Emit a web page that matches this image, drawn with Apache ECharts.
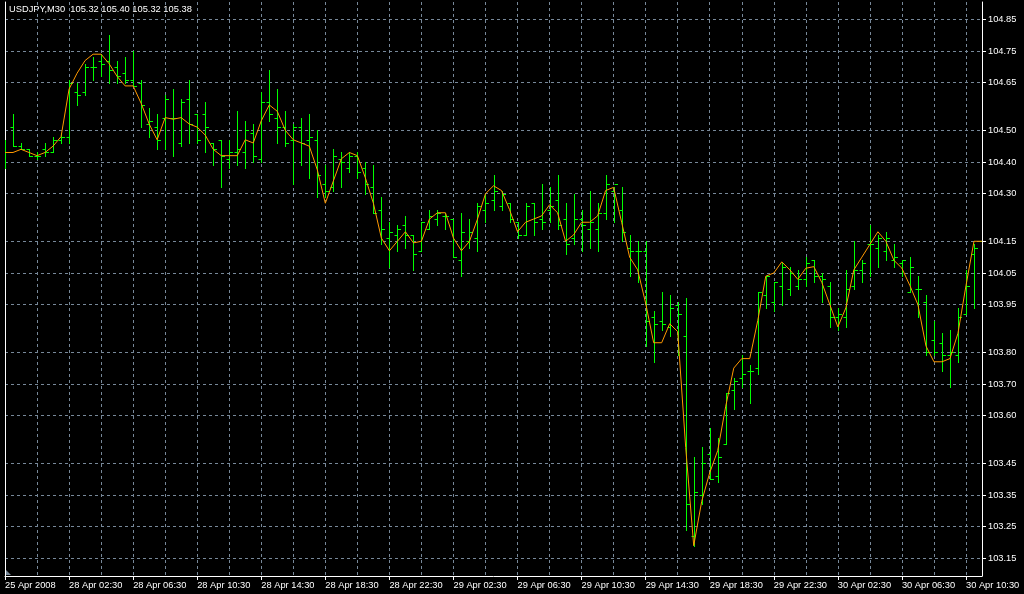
<!DOCTYPE html>
<html><head><meta charset="utf-8">
<script src="https://cdn.jsdelivr.net/npm/echarts@6/dist/echarts.min.js"></script>
<style>html,body{margin:0;padding:0;background:#000;}#c{width:1024px;height:594px;}</style>
</head><body><div id="c"></div>
<script>
const categories = [
'25 Apr 22:30','25 Apr 23:00','25 Apr 23:30',
'28 Apr 00:00','28 Apr 00:30','28 Apr 01:00','28 Apr 01:30','28 Apr 02:00','28 Apr 02:30','28 Apr 03:00','28 Apr 03:30',
'28 Apr 04:00','28 Apr 04:30','28 Apr 05:00','28 Apr 05:30','28 Apr 06:00','28 Apr 06:30','28 Apr 07:00','28 Apr 07:30',
'28 Apr 08:00','28 Apr 08:30','28 Apr 09:00','28 Apr 09:30','28 Apr 10:00','28 Apr 10:30','28 Apr 11:00','28 Apr 11:30',
'28 Apr 12:00','28 Apr 12:30','28 Apr 13:00','28 Apr 13:30','28 Apr 14:00','28 Apr 14:30','28 Apr 15:00','28 Apr 15:30',
'28 Apr 16:00','28 Apr 16:30','28 Apr 17:00','28 Apr 17:30','28 Apr 18:00','28 Apr 18:30','28 Apr 19:00','28 Apr 19:30',
'28 Apr 20:00','28 Apr 20:30','28 Apr 21:00','28 Apr 21:30','28 Apr 22:00','28 Apr 22:30','28 Apr 23:00','28 Apr 23:30',
'29 Apr 00:00','29 Apr 00:30','29 Apr 01:00','29 Apr 01:30','29 Apr 02:00','29 Apr 02:30','29 Apr 03:00','29 Apr 03:30',
'29 Apr 04:00','29 Apr 04:30','29 Apr 05:00','29 Apr 05:30','29 Apr 06:00','29 Apr 06:30','29 Apr 07:00','29 Apr 07:30',
'29 Apr 08:00','29 Apr 08:30','29 Apr 09:00','29 Apr 09:30','29 Apr 10:00','29 Apr 10:30','29 Apr 11:00','29 Apr 11:30',
'29 Apr 12:00','29 Apr 12:30','29 Apr 13:00','29 Apr 13:30','29 Apr 14:00','29 Apr 14:30','29 Apr 15:00','29 Apr 15:30',
'29 Apr 16:00','29 Apr 16:30','29 Apr 17:00','29 Apr 17:30','29 Apr 18:00','29 Apr 18:30','29 Apr 19:00','29 Apr 19:30',
'29 Apr 20:00','29 Apr 20:30','29 Apr 21:00','29 Apr 21:30','29 Apr 22:00','29 Apr 22:30','29 Apr 23:00','29 Apr 23:30',
'30 Apr 00:00','30 Apr 00:30','30 Apr 01:00','30 Apr 01:30','30 Apr 02:00','30 Apr 02:30','30 Apr 03:00','30 Apr 03:30',
'30 Apr 04:00','30 Apr 04:30','30 Apr 05:00','30 Apr 05:30','30 Apr 06:00','30 Apr 06:30','30 Apr 07:00','30 Apr 07:30',
'30 Apr 08:00','30 Apr 08:30','30 Apr 09:00','30 Apr 09:30','30 Apr 10:00','30 Apr 10:30','30 Apr 11:00','30 Apr 11:30'
];
const openV = [
104.43,104.51,104.45,104.44,104.42,104.44,104.43,104.47,104.48,104.62,
104.62,104.70,104.72,104.72,104.70,104.68,104.66,104.65,104.52,104.51,
104.54,104.54,104.46,104.60,104.55,104.55,104.46,104.47,104.41,104.43,
104.43,104.49,104.41,104.59,104.54,104.51,104.47,104.51,104.47,104.47,
104.33,104.32,104.41,104.38,104.42,104.38,104.32,104.25,104.16,104.17,
104.20,104.17,104.12,104.19,104.22,104.23,104.22,104.09,104.15,104.16,
104.25,104.28,104.26,104.27,104.21,104.17,104.27,104.22,104.25,104.28,
104.22,104.16,104.22,104.19,104.19,104.24,104.31,104.25,104.13,104.12,
104.12,103.91,103.90,103.88,103.95,103.85,103.22,103.35,103.48,103.41,
103.51,103.68,103.72,103.74,103.75,103.98,103.96,104.01,104.00,104.01,
104.03,104.09,104.04,104.01,103.91,103.91,104.01,104.06,104.14,104.13,
104.12,104.09,104.08,103.99,104.00,103.96,103.84,103.83,103.79,103.79,
103.92,104.11,104.15];
const highV = [
104.47,104.55,104.46,104.44,104.43,104.46,104.48,104.49,104.66,104.65,
104.71,104.73,104.74,104.80,104.72,104.73,104.75,104.66,104.57,104.55,
104.61,104.63,104.60,104.66,104.55,104.59,104.46,104.47,104.47,104.56,
104.53,104.52,104.62,104.69,104.63,104.56,104.52,104.54,104.55,104.50,
104.39,104.44,104.43,104.43,104.43,104.40,104.39,104.29,104.21,104.20,
104.23,104.17,104.21,104.25,104.25,104.24,104.22,104.24,104.22,104.27,
104.30,104.36,104.31,104.27,104.21,104.27,104.27,104.33,104.32,104.36,
104.27,104.30,104.25,104.31,104.27,104.36,104.32,104.32,104.17,104.15,
104.15,103.93,103.99,103.98,103.96,103.97,103.47,103.50,103.56,103.53,
103.67,103.72,103.79,103.76,103.99,104.04,104.02,104.08,104.07,104.06,
104.10,104.09,104.05,104.02,103.94,104.06,104.15,104.09,104.20,104.17,
104.18,104.14,104.09,104.10,104.04,103.98,103.90,103.86,103.87,103.94,
104.06,104.14,104.19];
const lowV = [
104.38,104.45,104.44,104.42,104.41,104.42,104.43,104.46,104.46,104.58,
104.61,104.66,104.67,104.65,104.65,104.65,104.64,104.51,104.48,104.44,
104.44,104.42,104.45,104.46,104.46,104.43,104.39,104.32,104.38,104.39,
104.38,104.40,104.40,104.53,104.46,104.45,104.33,104.39,104.35,104.29,
104.29,104.31,104.32,104.37,104.35,104.30,104.24,104.14,104.07,104.12,
104.13,104.06,104.12,104.19,104.20,104.19,104.10,104.04,104.13,104.12,
104.21,104.25,104.25,104.21,104.16,104.17,104.17,104.19,104.21,104.19,
104.11,104.14,104.12,104.13,104.12,104.22,104.21,104.15,104.04,104.02,
103.82,103.77,103.87,103.85,103.79,103.24,103.19,103.32,103.40,103.39,
103.51,103.62,103.69,103.64,103.73,103.94,103.93,103.95,103.98,104.00,
104.01,104.02,103.96,103.88,103.87,103.88,104.00,104.02,104.04,104.07,
104.09,104.07,104.04,103.99,103.91,103.79,103.79,103.74,103.69,103.77,
103.92,103.94,104.06];
const closeV = [
104.43,104.45,104.44,104.42,104.42,104.43,104.47,104.48,104.65,104.61,
104.70,104.70,104.71,104.69,104.67,104.66,104.64,104.58,104.53,104.47,
104.60,104.54,104.59,104.52,104.47,104.51,104.44,104.42,104.43,104.44,
104.50,104.42,104.59,104.55,104.51,104.46,104.51,104.46,104.48,104.36,
104.31,104.42,104.40,104.42,104.37,104.33,104.24,104.19,104.18,104.19,
104.17,104.11,104.21,104.23,104.24,104.23,104.10,104.18,104.18,104.26,
104.27,104.31,104.30,104.22,104.17,104.26,104.21,104.21,104.26,104.20,
104.14,104.22,104.20,104.21,104.24,104.33,104.33,104.18,104.12,104.12,
103.90,103.89,103.89,103.94,103.92,103.32,103.36,103.45,103.40,103.47,
103.67,103.71,103.73,103.74,103.99,104.04,104.02,104.07,104.05,104.03,
104.08,104.04,104.03,103.91,103.92,104.00,104.06,104.08,104.14,104.16,
104.16,104.10,104.09,104.07,104.00,103.80,103.80,103.79,103.80,103.91,
104.01,104.13,104.10];
const maV = [
104.43,104.43,104.44,104.43,104.42,104.43,104.45,104.48,104.63,104.68,
104.72,104.74,104.74,104.71,104.67,104.64,104.64,104.585,104.52,104.47,
104.54,104.535,104.54,104.52,104.51,104.485,104.44,104.42,104.42,104.42,
104.47,104.46,104.53,104.58,104.56,104.50,104.47,104.46,104.45,104.375,
104.27,104.34,104.41,104.43,104.42,104.35,104.27,104.16,104.12,104.15,
104.18,104.145,104.15,104.22,104.24,104.24,104.16,104.12,104.15,104.22,
104.30,104.325,104.31,104.25,104.18,104.21,104.22,104.23,104.265,104.24,
104.15,104.17,104.21,104.21,104.23,104.31,104.32,104.21,104.10,104.06,
103.955,103.83,103.83,103.89,103.865,103.50,103.19,103.33,103.42,103.49,
103.63,103.75,103.78,103.78,103.90,104.04,104.05,104.085,104.06,104.03,
104.065,104.07,104.02,103.95,103.88,103.94,104.06,104.10,104.14,104.18,
104.15,104.09,104.065,104.01,103.95,103.82,103.77,103.77,103.78,103.86,
104.01,104.15,104.15];
const yTicks = [104.85,104.75,104.65,104.50,104.40,104.30,104.15,104.05,103.95,103.80,103.70,103.60,103.45,103.35,103.25,103.15];
const firstLabel = '25 Apr 2008';
const titleText = 'USDJPY,M30  105.32 105.40 105.32 105.38';

const ohlc = categories.map((c, i) => [i, openV[i], highV[i], lowV[i], closeV[i]]);
const FONT = 'Liberation Sans';
const FS = 9.3;
const GRID = '#778899';
const chart = echarts.init(document.getElementById('c'));
chart.setOption({
  animation: false,
  backgroundColor: '#000000',
  grid: { left: 5, right: 42, top: 2, bottom: 18, containLabel: false },
  xAxis: {
    type: 'category', data: categories, boundaryGap: false,
    axisLine: { show: true, lineStyle: { color: '#ffffff', width: 1 } },
    axisTick: { show: true, interval: 7, length: 4, lineStyle: { color: '#ffffff' } },
    axisLabel: { interval: 7, color: '#ffffff', fontFamily: FONT, fontSize: FS, align: 'left', margin: 5,
      formatter: (v, i) => i === 0 ? firstLabel : v },
    splitLine: { show: true, interval: 3, lineStyle: { color: GRID, type: [3, 3], width: 1 } }
  },
  yAxis: [{
    type: 'value', position: 'right', min: 103.0944, max: 104.9046, scale: true,
    axisLine: { show: true, lineStyle: { color: '#ffffff', width: 1 } },
    axisTick: { show: true, length: 4, customValues: yTicks, lineStyle: { color: '#ffffff' } },
    axisLabel: { customValues: yTicks, color: '#ffffff', fontFamily: FONT, fontSize: FS, margin: 6,
      formatter: v => v.toFixed(2) },
    splitLine: { show: true, lineStyle: { color: GRID, type: [3, 3], width: 1 } }
  }, {
    type: 'value', position: 'left', min: 103.0944, max: 104.9046,
    axisLine: { show: true, lineStyle: { color: '#ffffff', width: 1 } },
    axisTick: { show: false }, axisLabel: { show: false }, splitLine: { show: false }
  }],
  series: [{
    type: 'custom', data: ohlc, encode: { x: 0, y: [1, 2, 3, 4] }, clip: true,
    renderItem: (params, api) => {
      const i = api.value(0);
      const o = api.coord([i, api.value(1)]);
      const h = api.coord([i, api.value(2)]);
      const l = api.coord([i, api.value(3)]);
      const c = api.coord([i, api.value(4)]);
      const x = Math.round(h[0]) + 0.5;
      const r = v => Math.round(v) + 0.5;
      const st = { stroke: '#00ff00', lineWidth: 1 };
      return { type: 'group', children: [
        { type: 'line', shape: { x1: x, y1: Math.round(h[1]), x2: x, y2: Math.round(l[1]) + 1 }, style: st },
        { type: 'line', shape: { x1: x - 3, y1: r(o[1]), x2: x, y2: r(o[1]) }, style: st },
        { type: 'line', shape: { x1: x, y1: r(c[1]), x2: x + 3.5, y2: r(c[1]) }, style: st }
      ]};
    }
  }, {
    type: 'line', data: maV, showSymbol: false, symbol: 'none', smooth: false,
    lineStyle: { color: '#ff9900', width: 1 }, z: 3
  }],
  graphic: [
    { type: 'text', left: 9, top: 5, style: { text: titleText, fill: '#ffffff', font: FS + 'px "Liberation Sans"' } },
    { type: 'polygon', shape: { points: [[6, 570], [6, 575], [11, 575]] }, style: { fill: GRID } }
  ]
});
</script></body></html>
